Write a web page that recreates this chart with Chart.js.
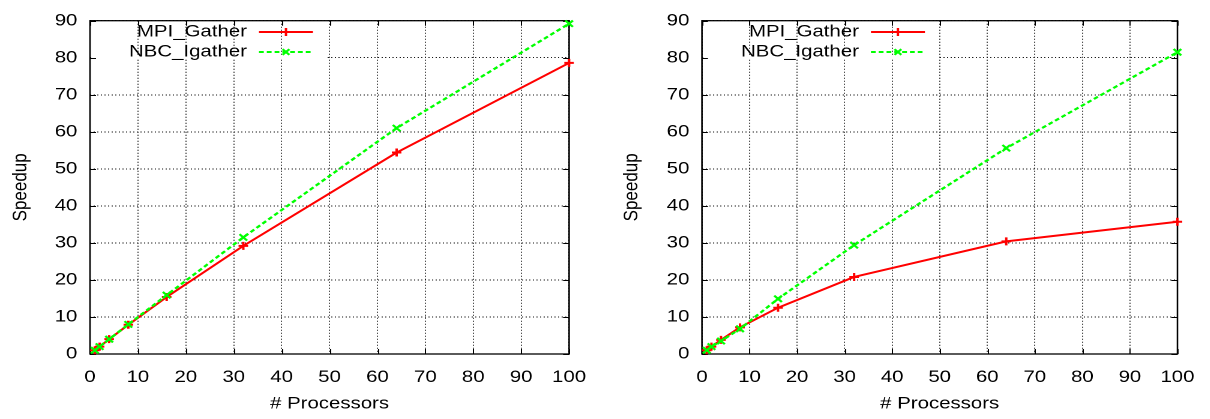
<!DOCTYPE html>
<html><head><meta charset="utf-8">
<script src="https://cdn.jsdelivr.net/npm/chart.js@4.4.1/dist/chart.umd.min.js"></script>
<style>
html,body{margin:0;padding:0;background:#fff;overflow:hidden;width:1210px;height:419px}
.wrap{position:absolute;top:0;width:504.1667px;height:419px;transform:scaleX(1.2);transform-origin:0 0}
</style></head><body>
<div class="wrap" style="left:0"><canvas id="c1"></canvas></div>
<div class="wrap" style="left:605px"><canvas id="c2"></canvas></div>
<script>
// ---- data ----
const processors = [1, 2, 4, 8, 16, 32, 64, 100];
const leftMPI  = [1, 2, 4, 7.9, 15.4, 29.2, 54.4, 78.6];
const leftNBC  = [1, 2, 4, 8, 15.9, 31.5, 61, 89.2];
const rightMPI = [1, 2, 3.8, 7.2, 12.5, 20.8, 30.4, 35.7];
const rightNBC = [1, 2, 3.5, 6.8, 14.9, 29.4, 55.6, 81.5];
const seriesNames = ['MPI_Gather', 'NBC_Igather'];
const xTickValues = [0, 10, 20, 30, 40, 50, 60, 70, 80, 90, 100];
const yTickValues = [0, 10, 20, 30, 40, 50, 60, 70, 80, 90];
const xTitle = '# Processors';
const yTitle = 'Speedup';

const FONT = "'Liberation Sans', Arial, Helvetica, sans-serif";
const RED = '#ff0000', GREEN = '#00ff00';
const DASH = [4, 2.5];

function pts(vals){ return processors.map((p,i)=>({x:p, y:vals[i]})); }

function framePlugin(){
  return {
    id:'frame',
    beforeDatasetsDraw(chart){
      const {ctx, chartArea:a, scales:{x,y}} = chart;
      ctx.save();
      const y80 = y.getPixelForValue(80);
      ctx.fillStyle = '#fff';
      ctx.fillRect(a.left+1, y80-1.5, 196, 3);
      ctx.strokeStyle = '#000'; ctx.lineWidth = 1;
      ctx.beginPath();
      xTickValues.forEach(v=>{
        const px = Math.round(x.getPixelForValue(v))+0.5;
        ctx.moveTo(px, a.bottom); ctx.lineTo(px, a.bottom-5);
        ctx.moveTo(px, a.top); ctx.lineTo(px, a.top+5);
      });
      yTickValues.forEach(v=>{
        const py = Math.round(y.getPixelForValue(v))+0.5;
        ctx.moveTo(a.left, py); ctx.lineTo(a.left+5, py);
        ctx.moveTo(a.right, py); ctx.lineTo(a.right-5, py);
      });
      ctx.stroke();
      ctx.lineWidth = 1.3;
      ctx.strokeRect(a.left, a.top, a.right-a.left, a.bottom-a.top);
      ctx.restore();
    },
    afterDatasetsDraw(chart){
      const {ctx, chartArea:a} = chart;
      ctx.save();
      ctx.font = '17px ' + FONT;
      ctx.fillStyle = '#000';
      ctx.textAlign = 'right';
      ctx.textBaseline = 'middle';
      const rows = [32, 52];
      const tx = a.left + 130.8, s0 = a.left + 140.8, s1 = a.left + 185.8, mx = (s0+s1)/2;
      chart.data.datasets.slice().sort((p,q)=>p.legendIndex-q.legendIndex).forEach((ds,i)=>{
        const ry = rows[i];
        ctx.fillText(ds.label, tx, ry);
        ctx.strokeStyle = ds.borderColor;
        ctx.lineWidth = 2;
        ctx.setLineDash(ds.borderDash || []);
        ctx.beginPath(); ctx.moveTo(s0, ry); ctx.lineTo(s1, ry); ctx.stroke();
        ctx.setLineDash([]);
        ctx.beginPath();
        if (ds.pointStyle === 'cross') {
          ctx.moveTo(mx-4, ry); ctx.lineTo(mx+4, ry);
          ctx.moveTo(mx, ry-4); ctx.lineTo(mx, ry+4);
        } else {
          const d = 4*Math.SQRT1_2;
          ctx.moveTo(mx-d, ry-d); ctx.lineTo(mx+d, ry+d);
          ctx.moveTo(mx-d, ry+d); ctx.lineTo(mx+d, ry-d);
        }
        ctx.stroke();
      });
      ctx.restore();
    }
  };
}

function makeChart(id, mpi, nbc, plotLeft, rightPad, yTitlePad){
  return new Chart(document.getElementById(id), {
    type:'line',
    data:{ datasets:[
      { label:seriesNames[1], legendIndex:1, data:pts(nbc), borderColor:GREEN, backgroundColor:GREEN,
        borderWidth:2.2, borderDash:DASH, pointStyle:'crossRot', pointRadius:4.5, pointBorderWidth:2,
        pointBorderColor:GREEN, tension:0, clip:false, order:0 },
      { label:seriesNames[0], legendIndex:0, data:pts(mpi), borderColor:RED, backgroundColor:RED,
        borderWidth:2, pointStyle:'cross', pointRadius:4, pointBorderWidth:2,
        pointBorderColor:RED, tension:0, clip:false, order:1 }
    ]},
    options:{
      responsive:true, maintainAspectRatio:false, animation:false, devicePixelRatio:2,
      layout:{ padding:{ left:0, right:rightPad, top:16, bottom:0 } },
      plugins:{ legend:{display:false}, tooltip:{enabled:false} },
      events:[],
      scales:{
        x:{ type:'linear', min:0, max:100,
          afterBuildTicks:s=>{ s.ticks = xTickValues.map(v=>({value:v})); },
          afterFit:s=>{ s.height = 65; },
          ticks:{ color:'#000', font:{family:FONT, size:17}, padding:13, maxRotation:0, autoSkip:false },
          grid:{ color:'#1a1a1a', lineWidth:1, drawTicks:false },
          border:{ display:false, dash:[1,2] },
          title:{ display:true, text:xTitle, color:'#000', font:{family:FONT, size:17}, padding:{top:0,bottom:4.8} }
        },
        y:{ type:'linear', min:0, max:90,
          afterBuildTicks:s=>{ s.ticks = yTickValues.map(v=>({value:v})); },
          afterFit:s=>{ s.width = plotLeft; },
          ticks:{ color:'#000', font:{family:FONT, size:17}, padding:10.5, autoSkip:false },
          grid:{ color:'#1a1a1a', lineWidth:1, drawTicks:false },
          border:{ display:false, dash:[1,2] },
          title:{ display:true, text:yTitle, color:'#000', font:{family:FONT, size:17}, padding:{top:yTitlePad,bottom:0} }
        }
      }
    },
    plugins:[framePlugin()]
  });
}

makeChart('c1', leftMPI, leftNBC, 75, 29.97, 7.3);
makeChart('c2', rightMPI, rightNBC, 80.8, 23.1, 12.3);
</script>
</body></html>
